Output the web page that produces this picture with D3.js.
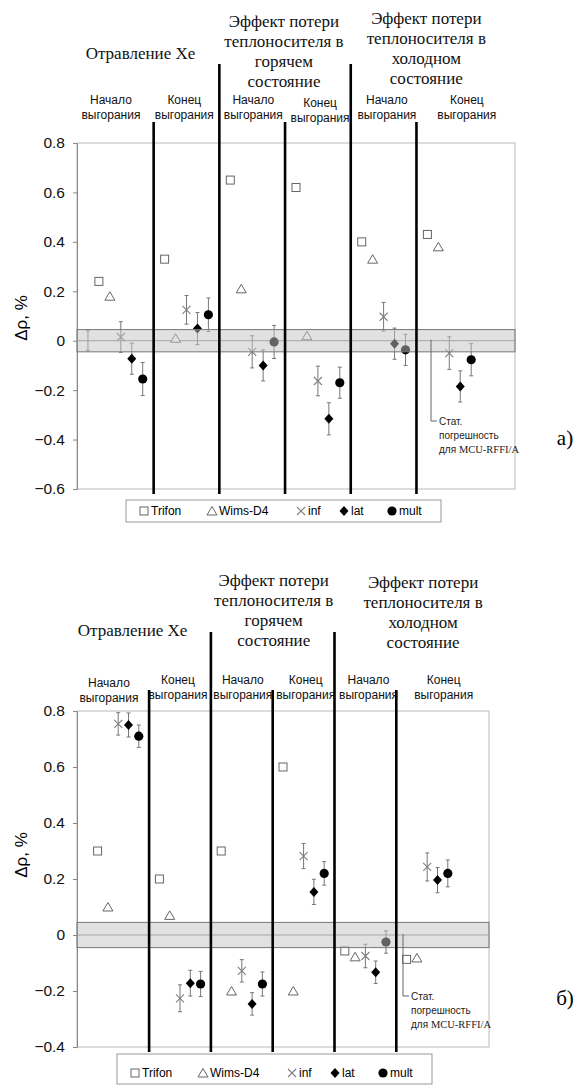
<!DOCTYPE html>
<html>
<head>
<meta charset="utf-8">
<script src="https://cdn.jsdelivr.net/npm/d3@7"></script>
<style>
  body { margin: 0; background: #fff; }
  svg { display: block; }
  .sans { font-family: "Liberation Sans", Arial, sans-serif; }
  .serif { font-family: "Liberation Serif", "Times New Roman", serif; }
</style>
</head>
<body>
<div id="chart"></div>
<script>
// series and categories
const seriesNames = ["Trifon", "Wims-D4", "inf", "lat", "mult"];
const groupTitles = [
    ["Отравление Xe"],
    ["Эффект потери", "теплоносителя в", "горячем", "состояние"],
    ["Эффект потери", "теплоносителя в", "холодном", "состояние"]
];
const segmentLabels = [
    ["Начало", "выгорания"], ["Конец", "выгорания"],
    ["Начало", "выгорания"], ["Конец", "выгорания"],
    ["Начало", "выгорания"], ["Конец", "выгорания"]
];
const yTicksA = [-0.6, -0.4, -0.2, 0, 0.2, 0.4, 0.6, 0.8];
const yTicksB = [-0.4, -0.2, 0, 0.2, 0.4, 0.6, 0.8];

// panel a) values, one per segment
const trifonA = [0.24, 0.33, 0.65, 0.62, 0.40, 0.43];
const wimsA = [0.18, 0.01, 0.21, 0.02, 0.33, 0.38];
const infA = [0.015, 0.125, -0.045, -0.163, 0.097, -0.05];
const latA = [-0.073, 0.049, -0.10, -0.316, -0.012, -0.185];
const multA = [-0.155, 0.105, -0.005, -0.17, -0.037, -0.077];
const infErrA = [0.062, 0.058, 0.065, 0.06, 0.058, 0.066];
const latErrA = [0.063, 0.065, 0.063, 0.065, 0.063, 0.063];
const multErrA = [0.067, 0.068, 0.067, 0.063, 0.063, 0.065];
const refBarA = [{ index: 1, value: 0, err: 0.04 }];

// panel б) values
const trifonB = [0.30, 0.20, 0.30, 0.60, -0.057, -0.087];
const wimsB = [0.10, 0.07, -0.20, -0.20, -0.078, -0.082];
const infB = [0.754, -0.226, -0.128, 0.282, -0.075, 0.243];
const latB = [0.75, -0.172, -0.246, 0.154, -0.133, 0.196];
const multB = [0.71, -0.175, -0.175, 0.22, -0.025, 0.22];
const infErrB = [0.04, 0.048, 0.04, 0.045, 0.042, 0.05];
const latErrB = [0.043, 0.046, 0.04, 0.045, 0.04, 0.045];
const multErrB = [0.04, 0.045, 0.043, 0.042, 0.04, 0.048];

const statBand = 0.045;   // stat. error of MCU-RFFI/A
const catCount = 40;
const segStart = [1, 7, 13, 19, 25, 31];
const dividers = [7, 13, 19, 25, 31];
const tallDividers = [13, 25];
const segLabelPos = [3.1, 9.8, 16.1, 22.2, 28.3, 35.6];

const svg = d3.select('#chart').append('svg')
    .attr('width', 584)
    .attr('height', 1086);

function buildPoints(tri, wims, inf, lat, mult, infErr, latErr, multErr) {
    const pts = [];
    segStart.forEach((s, i) => {
        pts.push({ type: 'Trifon', index: s + 1, value: tri[i] });
        pts.push({ type: 'Wims-D4', index: s + 2, value: wims[i] });
        pts.push({ type: 'inf', index: s + 3, value: inf[i], err: infErr[i] });
        pts.push({ type: 'lat', index: s + 4, value: lat[i], err: latErr[i] });
        pts.push({ type: 'mult', index: s + 5, value: mult[i], err: multErr[i] });
    });
    return pts;
}

function drawMarker(g, type, cx, cy) {
    if (type === 'Trifon') {
        g.append('rect').attr('x', cx - 4).attr('y', cy - 4).attr('width', 8).attr('height', 8)
            .attr('fill', '#fff').attr('stroke', '#666').attr('stroke-width', 1);
    } else if (type === 'Wims-D4') {
        g.append('path').attr('d', `M${cx},${cy - 4.5}L${cx + 5},${cy + 4}L${cx - 5},${cy + 4}Z`)
            .attr('fill', '#fff').attr('stroke', '#666').attr('stroke-width', 1);
    } else if (type === 'inf') {
        g.append('path').attr('d', `M${cx - 4},${cy - 4}L${cx + 4},${cy + 4}M${cx - 4},${cy + 4}L${cx + 4},${cy - 4}`)
            .attr('stroke', '#808080').attr('stroke-width', 1.1);
    } else if (type === 'lat') {
        g.append('path').attr('d', `M${cx},${cy - 5}L${cx + 4.5},${cy}L${cx},${cy + 5}L${cx - 4.5},${cy}Z`)
            .attr('fill', '#000');
    } else {
        g.append('circle').attr('cx', cx).attr('cy', cy).attr('r', 4.6).attr('fill', '#000');
    }
}

function drawPanel(cfg) {
    const x = d3.scaleLinear().domain([0, catCount]).range([cfg.left, cfg.right]);
    const y = d3.scaleLinear().domain(cfg.yDomain).range([cfg.bottom, cfg.top]);
    const g = svg.append('g');

    // plot frame
    g.append('rect')
        .attr('x', cfg.left).attr('y', cfg.top)
        .attr('width', cfg.right - cfg.left).attr('height', cfg.bottom - cfg.top)
        .attr('fill', 'none').attr('stroke', '#bbb');

    // y axis
    const yAxis = g.append('g')
        .attr('transform', `translate(${cfg.left},0)`)
        .call(d3.axisLeft(y).tickValues(cfg.ticks).tickSize(4).tickPadding(8)
            .tickFormat(d => d === 0 ? '0' : d3.format('.1f')(d)));
    yAxis.select('.domain').attr('stroke', '#888');
    yAxis.selectAll('.tick line').attr('stroke', '#888');
    yAxis.selectAll('.tick text')
        .attr('class', 'sans')
        .attr('font-size', 15.5)
        .attr('fill', '#111');

    g.append('text')
        .attr('class', 'sans')
        .attr('transform', `translate(${cfg.yLabelX},${cfg.yLabelY}) rotate(-90)`)
        .attr('text-anchor', 'middle')
        .attr('font-size', 17)
        .text('Δρ, %');

    // zero line
    g.append('line')
        .attr('x1', cfg.left).attr('x2', cfg.right)
        .attr('y1', y(0)).attr('y2', y(0))
        .attr('stroke', '#888');

    // error bars
    const errPts = cfg.points.filter(p => p.err !== undefined).concat(cfg.refBars);
    errPts.forEach(p => {
        const cx = x(p.index);
        const y1 = y(p.value + p.err), y2 = y(p.value - p.err);
        g.append('path')
            .attr('d', `M${cx},${y1}V${y2}M${cx - 2},${y1}H${cx + 2}M${cx - 2},${y2}H${cx + 2}`)
            .attr('stroke', '#777').attr('stroke-width', 1).attr('fill', 'none');
    });

    // markers
    cfg.points.forEach(p => drawMarker(g, p.type, x(p.index), y(p.value)));

    // stat. error band (drawn on top, semi transparent)
    g.append('rect')
        .attr('x', cfg.left).attr('y', y(statBand))
        .attr('width', cfg.right - cfg.left).attr('height', y(-statBand) - y(statBand))
        .attr('fill', '#c4c4c4').attr('fill-opacity', 0.5)
        .attr('stroke', '#777').attr('stroke-width', 1);

    // section dividers
    g.selectAll('line.divider')
        .data(dividers)
        .enter().append('line')
        .attr('class', 'divider')
        .attr('x1', d => x(d)).attr('x2', d => x(d))
        .attr('y1', d => tallDividers.includes(d) ? cfg.tallTop : cfg.shortTop)
        .attr('y2', cfg.bottom + 5)
        .attr('stroke', '#000').attr('stroke-width', 2.6);

    // group titles
    groupTitles.forEach((lines, i) => {
        const t = g.append('text')
            .attr('class', 'serif')
            .attr('text-anchor', 'middle')
            .attr('font-size', 17)
            .attr('fill', '#111');
        lines.forEach((ln, j) => {
            t.append('tspan')
                .attr('x', x(cfg.titlePos[i]))
                .attr('y', cfg.titleY[i] + j * 20)
                .attr('dy', '0.35em')
                .text(ln);
        });
    });

    // segment labels
    segmentLabels.forEach((lines, i) => {
        const t = g.append('text')
            .attr('class', 'sans')
            .attr('text-anchor', 'middle')
            .attr('font-size', 12)
            .attr('fill', '#111');
        lines.forEach((ln, j) => {
            t.append('tspan')
                .attr('x', x(segLabelPos[i]))
                .attr('y', cfg.segY + (cfg.segDy[i] || 0) + j * 15)
                .attr('dy', '0.35em')
                .text(ln);
        });
    });

    // annotation for stat. error band
    const ax = cfg.noteX;
    g.append('path')
        .attr('d', `M${ax},${y(0) - 1}V${cfg.noteY}H${ax + 6}`)
        .attr('stroke', '#666').attr('fill', 'none');
    const note = g.append('text')
        .attr('class', 'sans')
        .attr('font-size', 10)
        .attr('fill', '#222');
    note.append('tspan').attr('x', ax + 8).attr('y', cfg.noteY).attr('dy', '0.35em').text('Стат.');
    note.append('tspan').attr('x', ax + 8).attr('y', cfg.noteY + 14).attr('dy', '0.35em').text('погрешность');
    const last = note.append('tspan').attr('x', ax + 8).attr('y', cfg.noteY + 28).attr('dy', '0.35em');
    last.text('для ');
    note.append('tspan').attr('class', 'serif').attr('font-size', 10.5).text('MCU-RFFI/A');

    // legend
    const lg = g.append('g').attr('transform', `translate(${cfg.legendX},${cfg.legendY})`);
    lg.append('rect')
        .attr('width', 315).attr('height', cfg.legendH)
        .attr('fill', '#fff').attr('stroke', '#999');
    const legendOffsets = [18, 86, 175, 218, 266];
    seriesNames.forEach((name, i) => {
        const mx = legendOffsets[i];
        const item = lg.append('g');
        drawMarker(item, name, mx, cfg.legendTextY);
        item.append('text')
            .attr('class', 'sans')
            .attr('x', mx + 7)
            .attr('y', cfg.legendTextY)
            .attr('dy', '0.35em')
            .attr('font-size', 12)
            .text(name);
    });

    // panel label
    g.append('text')
        .attr('class', 'serif')
        .attr('x', 565).attr('y', cfg.panelY)
        .attr('dy', '0.35em')
        .attr('text-anchor', 'middle')
        .attr('font-size', 21)
        .text(cfg.panelLabel);
}

drawPanel({
    left: 77, right: 515, top: 143, bottom: 489,
    yDomain: [-0.6, 0.8], ticks: yTicksA,
    yLabelX: 27, yLabelY: 318,
    points: buildPoints(trifonA, wimsA, infA, latA, multA, infErrA, latErrA, multErrA),
    refBars: refBarA,
    tallTop: 64, shortTop: 122,
    titlePos: [5.8, 18.9, 31.9], titleY: [53, 21, 18],
    segY: 100, segDy: [0, 0, 0, 3, 0, 0],
    noteX: 431, noteY: 421,
    legendX: 126, legendY: 500, legendH: 22, legendTextY: 11,
    panelLabel: 'а)', panelY: 438
});

drawPanel({
    left: 77, right: 489, top: 711, bottom: 1047,
    yDomain: [-0.4, 0.8], ticks: yTicksB,
    yLabelX: 27, yLabelY: 855,
    points: buildPoints(trifonB, wimsB, infB, latB, multB, infErrB, latErrB, multErrB),
    refBars: [],
    tallTop: 632, shortTop: 690,
    titlePos: [5.4, 19.1, 33.6], titleY: [630, 580, 582],
    segY: 680, segDy: [3, 0, 0, 0, 0, 0],
    noteX: 403, noteY: 996,
    legendX: 117, legendY: 1054, legendH: 30, legendTextY: 19,
    panelLabel: 'б)', panelY: 998
});
</script>
</body>
</html>
